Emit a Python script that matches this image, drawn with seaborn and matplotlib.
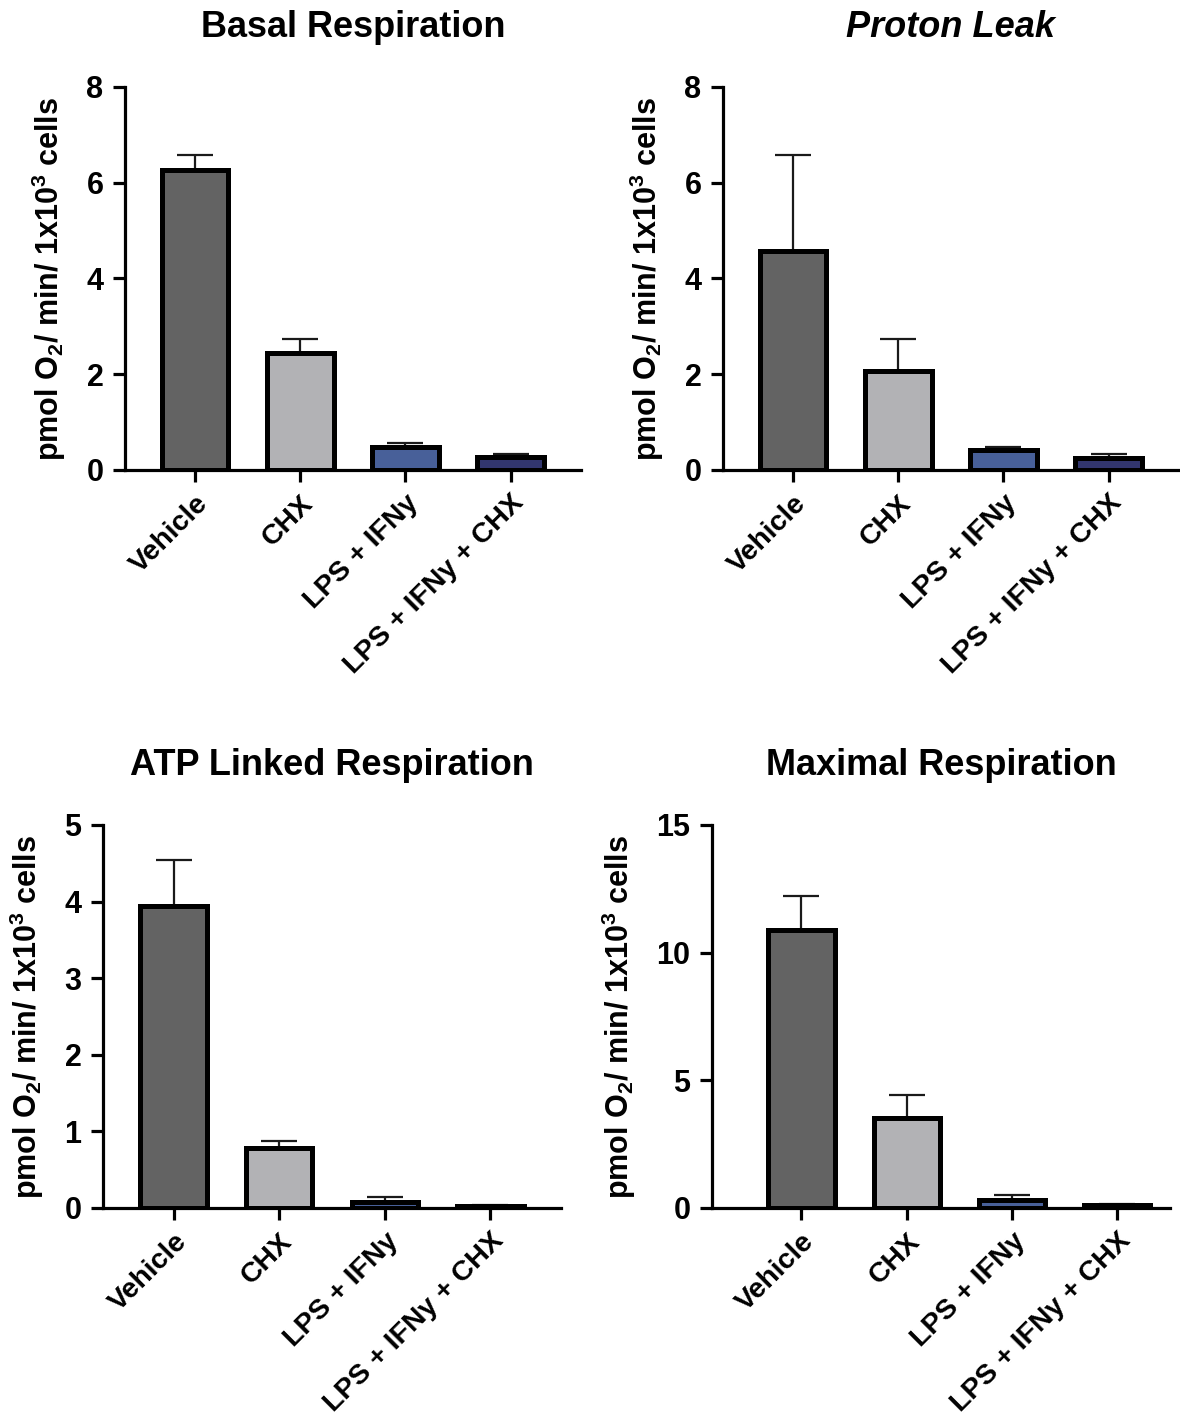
import numpy as np
import pandas as pd
import matplotlib
matplotlib.use("Agg")
import matplotlib.pyplot as plt
import seaborn as sns


# data (mean, upper error)
groups = ["Vehicle", "CHX", "LPS + IFNy", "LPS + IFNy + CHX"]
colors = ["#636363", "#b1b2b6", "#3a5aa6", "#282e78"]

basal_mean = [6.27, 2.44, 0.48, 0.27]
basal_err = [0.31, 0.29, 0.08, 0.06]

leak_mean = [4.58, 2.07, 0.42, 0.25]
leak_err = [2.00, 0.66, 0.06, 0.08]

atp_mean = [3.94, 0.78, 0.08, 0.02]
atp_err = [0.60, 0.09, 0.06, 0.02]

max_mean = [10.9, 3.53, 0.31, 0.10]
max_err = [1.30, 0.90, 0.19, 0.06]

sns.set_style("ticks")
plt.rcParams["font.family"] = ["Liberation Sans", "DejaVu Sans"]
plt.rcParams["font.weight"] = "bold"
plt.rcParams["text.color"] = "black"
plt.rcParams["axes.labelcolor"] = "black"
plt.rcParams["mathtext.fontset"] = "custom"
plt.rcParams["mathtext.rm"] = "Liberation Sans:bold"
plt.rcParams["mathtext.bf"] = "Liberation Sans:bold"
plt.rcParams["mathtext.default"] = "rm"

YLABEL = r"pmol O$_{2}$/ min/ 1x10$^{3}$ cells"


def bar_panel(ax, means, errs, title, ymax, yticks, xlim, italic=False):
    df = pd.DataFrame({"group": groups, "value": means})
    sns.barplot(data=df, x="group", y="value", hue="group", order=groups,
                palette=dict(zip(groups, colors)), legend=False, errorbar=None,
                width=0.63, edgecolor="black", linewidth=3.6, ax=ax, zorder=3)
    ax.errorbar(np.arange(len(groups)), means,
                yerr=[np.zeros(len(errs)), errs], fmt="none", ecolor="#1a1a1a",
                elinewidth=1.6, capsize=13, capthick=1.6, zorder=2)
    ax.set_ylim(0, ymax)
    ax.set_xlim(*xlim)
    ax.set_yticks(yticks)
    ax.set_xlabel("")
    ax.set_ylabel(YLABEL, fontsize=22, fontweight="bold", labelpad=13, color="black")
    ax.set_title(title, fontsize=26, fontweight="bold", color="black",
                 fontstyle="italic" if italic else "normal", pad=36)
    sns.despine(ax=ax)
    for s in ["left", "bottom"]:
        ax.spines[s].set_linewidth(2.3)
        ax.spines[s].set_color("black")
    ax.tick_params(axis="both", width=2.3, length=8.5, colors="black")
    ax.tick_params(axis="y", pad=7, labelsize=22)
    ax.tick_params(axis="x", pad=6, labelsize=20.5)
    for lab in ax.get_xticklabels():
        lab.set_rotation(45)
        lab.set_ha("right")
        lab.set_rotation_mode("anchor")
        lab.set_fontweight("bold")
    for lab in ax.get_yticklabels():
        lab.set_fontweight("bold")


fig = plt.figure(figsize=(11.8, 14.25), dpi=100)
ax1 = fig.add_axes([0.1059, 0.6702, 0.3864, 0.2688])
ax2 = fig.add_axes([0.6127, 0.6702, 0.3864, 0.2688])
ax3 = fig.add_axes([0.0873, 0.1523, 0.3881, 0.2688])
ax4 = fig.add_axes([0.6034, 0.1523, 0.3881, 0.2688])

bar_panel(ax1, basal_mean, basal_err, "Basal Respiration", 8, [0, 2, 4, 6, 8], (-0.67, 3.67))
bar_panel(ax2, leak_mean, leak_err, "Proton Leak", 8, [0, 2, 4, 6, 8], (-0.67, 3.67), italic=True)
bar_panel(ax3, atp_mean, atp_err, "ATP Linked Respiration", 5, [0, 1, 2, 3, 4, 5], (-0.67, 3.67))
bar_panel(ax4, max_mean, max_err, "Maximal Respiration", 15, [0, 5, 10, 15], (-0.85, 3.5))

fig.savefig("out.png", dpi=100)
